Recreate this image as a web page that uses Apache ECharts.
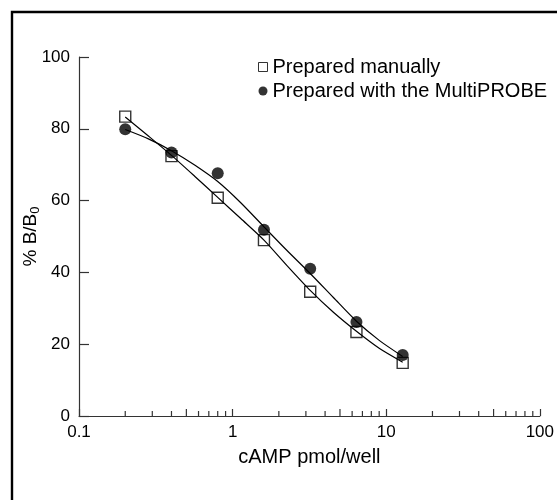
<!DOCTYPE html>
<html>
<head>
<meta charset="utf-8">
<style>
  html, body { margin: 0; padding: 0; background: #fff; }
  #chart { width: 557px; height: 500px; }
</style>
<script src="https://cdn.jsdelivr.net/npm/echarts@6/dist/echarts.min.js"></script>
</head>
<body>
<div id="chart"></div>
<script>
// measured points (cAMP pmol/well, % B/B0)
const doses = [0.2, 0.4, 0.8, 1.6, 3.2, 6.4, 12.8]
const manualValues = [83.4, 72.4, 60.8, 49.0, 34.6, 23.4, 14.8]
const probeValues = [79.9, 73.4, 67.6, 51.9, 41.0, 26.2, 17.0]

// fitted curves
const curveX = [0.2, 0.283, 0.4, 0.566, 0.8, 1.13, 1.6, 2.26, 3.2, 4.53, 6.4, 9.05, 12.8]
const manualCurve = [83.3, 78.0, 72.6, 66.8, 60.9, 55.0, 49.0, 41.9, 35.0, 28.9, 23.6, 18.8, 15.0]
const probeCurve = [79.8, 77.2, 73.9, 69.9, 65.3, 59.4, 52.7, 46.1, 39.7, 33.0, 26.4, 21.0, 16.6]

const yTicks = [0, 20, 40, 60, 80, 100]
const minorTicks = [0.2, 0.3, 0.4, 0.5, 0.6, 0.7, 0.8, 0.9, 2, 3, 4, 5, 6, 7, 8, 9, 20, 30, 40, 50, 60, 70, 80, 90]

const ink = '#000'
const axisInk = '#333'
const font = 'Liberation Sans, Arial, Helvetica, sans-serif'

const pairs = (xs, ys) => xs.map((x, i) => [x, ys[i]])

const chart = echarts.init(document.getElementById('chart'))

chart.setOption({
  backgroundColor: '#fff',
  animation: false,
  textStyle: { fontFamily: font, color: ink },
  graphic: [{
    type: 'rect',
    shape: { x: 12, y: 12, width: 600, height: 600 },
    style: { fill: 'none', stroke: ink, lineWidth: 2.4 },
    silent: true
  }],
  grid: { left: 79, top: 57, right: 12, bottom: 84 },
  legend: {
    orient: 'vertical',
    left: 258,
    top: 57,
    padding: 0,
    itemWidth: 9,
    itemHeight: 9,
    itemGap: 4,
    textStyle: { fontSize: 20, color: ink, fontFamily: font },
    data: [
      { name: 'Prepared manually', icon: 'rect', itemStyle: { color: '#fff', borderColor: ink, borderWidth: 1 } },
      { name: 'Prepared with the MultiPROBE', icon: 'circle', itemStyle: { color: ink } }
    ]
  },
  xAxis: {
    type: 'log',
    logBase: 10,
    min: 0.1,
    max: 100,
    name: 'cAMP pmol/well',
    nameLocation: 'middle',
    nameGap: 31,
    nameMoveOverlap: false,
    nameTextStyle: { fontSize: 20, color: ink },
    axisLine: { lineStyle: { color: axisInk, width: 1.2 } },
    axisTick: { inside: true, length: 7, lineStyle: { color: axisInk, width: 1.2 } },
    axisLabel: { fontSize: 17, color: ink, margin: 8, showMinLabel: true, showMaxLabel: true },
    splitLine: { show: false }
  },
  yAxis: {
    type: 'value',
    min: yTicks[0],
    max: yTicks[yTicks.length - 1],
    interval: 20,
    name: '% B/B{sub|0}',
    nameLocation: 'middle',
    nameRotate: 90,
    nameGap: 37,
    nameMoveOverlap: false,
    nameTextStyle: {
      fontSize: 19,
      color: ink,
      rich: { sub: { fontSize: 13, color: ink, verticalAlign: 'bottom', padding: [9, 0, 0, 0] } }
    },
    axisLine: { show: true, lineStyle: { color: axisInk, width: 1.2 } },
    axisTick: { show: true, inside: true, length: 10, lineStyle: { color: axisInk, width: 1.2 } },
    axisLabel: { fontSize: 17, color: ink, margin: 9 },
    splitLine: { show: false }
  },
  series: [
    {
      type: 'custom',
      name: 'minor ticks',
      silent: true,
      clip: false,
      data: minorTicks.map(v => [v, 0]),
      renderItem: (params, api) => {
        const v = api.value(0)
        const p = api.coord([v, 0])
        const lead = Math.round(v / Math.pow(10, Math.floor(Math.log10(v) + 1e-9)))
        const len = lead === 5 ? 7 : 5
        return {
          type: 'line',
          shape: { x1: p[0], y1: p[1], x2: p[0], y2: p[1] - len },
          style: { stroke: axisInk, lineWidth: 1.2 }
        }
      },
      z: 1
    },
    {
      type: 'line',
      name: 'manual fit',
      data: pairs(curveX, manualCurve),
      smooth: 0.25,
      showSymbol: false,
      silent: true,
      lineStyle: { color: ink, width: 1.2 },
      z: 2
    },
    {
      type: 'line',
      name: 'probe fit',
      data: pairs(curveX, probeCurve),
      smooth: 0.25,
      showSymbol: false,
      silent: true,
      lineStyle: { color: ink, width: 1.2 },
      z: 2
    },
    {
      type: 'scatter',
      name: 'Prepared manually',
      data: pairs(doses, manualValues),
      symbol: 'rect',
      symbolSize: 11,
      itemStyle: { color: 'rgba(255,255,255,0)', borderColor: ink, borderWidth: 1.4 },
      z: 3
    },
    {
      type: 'scatter',
      name: 'Prepared with the MultiPROBE',
      data: pairs(doses, probeValues),
      symbol: 'circle',
      symbolSize: 12,
      itemStyle: { color: ink },
      z: 4
    }
  ]
})
</script>
</body>
</html>
